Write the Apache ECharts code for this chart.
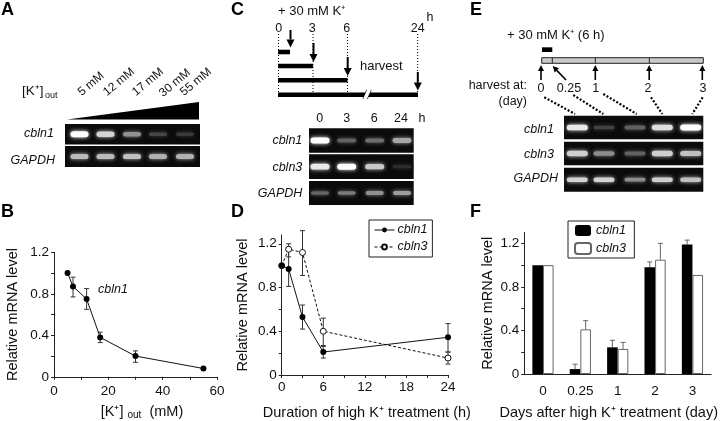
<!DOCTYPE html>
<html>
<head>
<meta charset="utf-8">
<style>html,body{margin:0;padding:0;background:#fff}#c{width:720px;height:421px}</style>
<script src="https://cdn.jsdelivr.net/npm/echarts@6/dist/echarts.min.js"></script>
</head>
<body>
<div id="c"></div>
<script>
// ---- data ----
var potassiumMM = [5, 7, 12, 17, 30, 55];
var bLevel = [1.0, 0.87, 0.75, 0.38, 0.20, 0.08];
var bLow = [null, 0.77, 0.65, 0.33, 0.14, null];
var bHigh = [null, 0.96, 0.85, 0.43, 0.25, null];

var hours = [0, 1, 3, 6, 24];
var dCbln1 = [1.0, 0.97, 0.53, 0.21, 0.345];
var dCbln1Low = [null, 0.81, 0.42, 0.155, 0.21];
var dCbln1High = [null, 1.13, 0.64, 0.26, 0.47];
var dCbln3 = [1.0, 1.15, 1.12, 0.40, 0.155];
var dCbln3Low = [null, 1.08, 0.91, 0.27, 0.10];
var dCbln3High = [null, 1.20, 1.32, 0.52, 0.21];

var days = ['0', '0.25', '1', '2', '3'];
var fCbln1 = [1.0, 0.045, 0.245, 0.98, 1.19];
var fCbln1High = [null, 0.09, 0.31, 1.03, 1.23];
var fCbln3 = [1.0, 0.41, 0.23, 1.05, 0.91];
var fCbln3High = [null, 0.49, 0.29, 1.20, null];

// gel band brightness, 0..1
var gelACbln1 = [1.0, 0.8, 0.5, 0.16, 0.1];
var gelAGapdh = [0.68, 0.68, 0.72, 0.64, 0.64];
var gelCCbln1 = [1.0, 0.28, 0.34, 0.6];
var gelCCbln3 = [0.9, 1.0, 0.75, 0.04];
var gelCGapdh = [0.3, 0.4, 0.5, 0.55];
var gelECbln1 = [0.9, 0.14, 0.28, 0.85, 1.0];
var gelECbln3 = [0.78, 0.48, 0.28, 0.78, 0.72];
var gelEGapdh = [0.8, 0.8, 0.48, 0.78, 0.72];

// ---- drawing helpers ----
var FONT = '"Liberation Sans", Arial, sans-serif';
var g = [];
function text(x, y, s, size, o) {
  o = o || {};
  g.push({ type: 'text', x: x, y: y, rotation: o.rot || 0, silent: true, z: 10,
    style: { text: s, fill: o.fill || '#111', font: (o.italic ? 'italic ' : '') + (o.bold ? 'bold ' : '') + size + 'px ' + FONT,
      textAlign: o.align || 'center', textVerticalAlign: 'middle', textBaseline: 'middle' } });
}
function line(x1, y1, x2, y2, w, dash, color) {
  g.push({ type: 'line', silent: true, z: 5, shape: { x1: x1, y1: y1, x2: x2, y2: y2 },
    style: { stroke: color || '#000', lineWidth: w || 1, lineDash: dash || null } });
}
function rect(x, y, w, h, fill, stroke, z) {
  g.push({ type: 'rect', silent: true, z: z || 4, shape: { x: x, y: y, width: w, height: h },
    style: { fill: fill, stroke: stroke || null, lineWidth: stroke ? 1 : 0 } });
}
function arrow(x1, y1, x2, y2, w, head) {
  var a = Math.atan2(y2 - y1, x2 - x1), L = head || 7, H = (head || 7) * 0.5;
  var bx = x2 - L * Math.cos(a), by = y2 - L * Math.sin(a);
  line(x1, y1, bx, by, w || 2);
  g.push({ type: 'polygon', silent: true, z: 6,
    shape: { points: [[x2, y2], [bx - H * Math.sin(a), by + H * Math.cos(a)], [bx + H * Math.sin(a), by - H * Math.cos(a)]] },
    style: { fill: '#000' } });
}
function gel(x, y, w, h, centers, values, bw, bh) {
  rect(x, y, w, h, '#0b0b0b');
  values.forEach(function (b, i) {
    var v = Math.round(35 + 220 * b);
    var c = 'rgb(' + v + ',' + v + ',' + v + ')';
    var bhh = bh * (0.55 + 0.45 * b);
    g.push({ type: 'rect', silent: true, z: 5,
      shape: { x: centers[i] - bw / 2, y: y + h / 2 - bhh / 2, width: bw, height: bhh, r: bhh / 2 },
      style: { fill: c, shadowBlur: 4, shadowColor: c } });
  });
}

// panel letters
[['A', 1, 10], ['B', 1, 212], ['C', 231, 10], ['D', 231, 212], ['E', 470, 10], ['F', 470, 212]].forEach(function (p) {
  text(p[1], p[2], p[0], 18, { bold: true, align: 'left', fill: '#000' });
});

// panel A
text(22, 91, '[K⁺]', 13.5, { align: 'left' });
text(45, 96, 'out', 9, { align: 'left' });
[['5 mM', 91, 84], ['12 mM', 119, 82], ['17 mM', 148, 82], ['30 mM', 175, 83], ['55 mM', 196, 82]].forEach(function (t) {
  text(t[1], t[2], t[0], 12, { rot: 40 * Math.PI / 180 });
});
g.push({ type: 'polygon', silent: true, z: 5, shape: { points: [[67, 119.5], [199, 119.5], [199, 102]] }, style: { fill: '#000' } });
var aX = [79.5, 105.5, 132, 158, 185];
gel(65, 124, 135, 20.5, aX, gelACbln1, 18, 6);
gel(65, 146, 135, 21, aX, gelAGapdh, 18, 6);
text(54, 134, 'cbln1', 12.5, { italic: true, align: 'right' });
text(55, 161, 'GAPDH', 12.5, { italic: true, align: 'right' });

// panel B note
text(98, 290, 'cbln1', 12.5, { italic: true, align: 'left' });

// panel C diagram
text(278, 11, '+ 30 mM K⁺', 13, { align: 'left' });
[['0', 278.7], ['3', 312.3], ['6', 346.7], ['24', 417.7]].forEach(function (t) { text(t[1], 28.5, t[0], 12.5); });
text(430, 18, 'h', 12.5);
[278.5, 313, 347.5, 417.7].forEach(function (x) { line(x, 34, x, 94, 1, [1, 2]); });
rect(278, 49.7, 12, 4.6, '#000');
rect(278, 63.7, 35, 4.6, '#000');
rect(278, 78, 69.5, 4.6, '#000');
rect(278, 92.4, 140, 4.6, '#000');
g.push({ type: 'polygon', silent: true, z: 6, shape: { points: [[363, 99], [367, 90], [371, 90], [367, 99]] }, style: { fill: '#fff' } });
line(363, 99, 367, 90, 1.2); line(367, 99, 371, 90, 1.2);
arrow(290.5, 30, 290.5, 47.5, 2, 8);
arrow(313.5, 43, 313.5, 62, 2, 8);
arrow(347.7, 57, 347.7, 76, 2, 8);
arrow(417.8, 72, 417.8, 90.5, 2, 8);
text(360, 66, 'harvest', 13, { align: 'left' });

// panel C gels
[['0', 319.7], ['3', 346.7], ['6', 374.3], ['24', 401], ['h', 422]].forEach(function (t) { text(t[1], 118.5, t[0], 12.5); });
var cX = [320, 346.7, 374.7, 402];
gel(309, 128.3, 104.7, 24.4, cX, gelCCbln1, 19, 6);
gel(309, 154.3, 104.7, 24.7, cX, gelCCbln3, 19, 6);
gel(309, 181, 104.7, 24, cX, gelCGapdh, 18, 5);
text(302.3, 140.5, 'cbln1', 12.5, { italic: true, align: 'right' });
text(302.3, 168, 'cbln3', 12.5, { italic: true, align: 'right' });
text(302.3, 193.5, 'GAPDH', 12.5, { italic: true, align: 'right' });

// panel E diagram
text(507, 35, '+ 30 mM K⁺ (6 h)', 13, { align: 'left' });
rect(542, 47.3, 10.3, 4.7, '#000');
rect(541.7, 57.7, 161.6, 5.6, '#c9c9c9', '#222');
[552.3, 595.3, 649.3].forEach(function (x) { line(x, 57.7, x, 63.3, 1, null, '#222'); });
[541, 595.3, 649.2, 702.3].forEach(function (x) { arrow(x, 80, x, 65, 1.6, 6); });
arrow(566, 80, 552.7, 66, 1.6, 6);
[['0', 541], ['0.25', 569], ['1', 595.7], ['2', 648], ['3', 703]].forEach(function (t) { text(t[1], 88.5, t[0], 12.5); });
text(527, 86, 'harvest at:', 12.5, { align: 'right' });
text(527, 102, '(day)', 12.5, { align: 'right' });
[[544.3, 97.3, 575, 114], [573.3, 95, 603.3, 114], [603.3, 94, 636.7, 114], [651, 97.3, 662.3, 114], [702.7, 97.3, 692.3, 114]].forEach(function (d) {
  line(d[0], d[1], d[2], d[3], 2.2, [2, 1.8]);
});
var eX = [577.3, 604, 635, 662.3, 690.7];
gel(564, 115.7, 139.3, 23.6, eX, gelECbln1, 21, 6);
gel(564, 141.7, 139.3, 23.6, eX, gelECbln3, 21, 6);
gel(564, 167.7, 139.3, 24, eX, gelEGapdh, 21, 5);
text(554, 130, 'cbln1', 12.5, { italic: true, align: 'right' });
text(554, 155, 'cbln3', 12.5, { italic: true, align: 'right' });
text(558, 179, 'GAPDH', 12.5, { italic: true, align: 'right' });

// ---- charts ----
function errors(grid, xs, lo, hi, color, offset) {
  var data = [];
  xs.forEach(function (x, i) { if (hi[i] != null) data.push([x, lo ? lo[i] : null, hi[i]]); });
  return {
    type: 'custom', xAxisIndex: grid, yAxisIndex: grid, silent: true, z: 1, data: data,
    encode: { x: 0, y: [1, 2] },
    renderItem: function (params, api) {
      var xv = api.value(0), top = api.coord([xv, api.value(2)]);
      var loVal = api.value(1);
      var hasLo = !isNaN(loVal);
      var x = top[0] + (offset || 0), cap = 2.5;
      var y2 = hasLo ? api.coord([xv, loVal])[1] : api.coord([xv, api.value(3)])[1];
      var st = { stroke: color, lineWidth: 1, fill: null };
      var ch = [
        { type: 'line', shape: { x1: x, y1: top[1], x2: x, y2: y2 }, style: st },
        { type: 'line', shape: { x1: x - cap, y1: top[1], x2: x + cap, y2: top[1] }, style: st }
      ];
      if (hasLo) ch.push({ type: 'line', shape: { x1: x - cap, y1: y2, x2: x + cap, y2: y2 }, style: st });
      return { type: 'group', children: ch };
    }
  };
}
function barErrors(grid, values, hi, color, offset) {
  var data = [];
  values.forEach(function (v, i) { if (hi[i] != null) data.push([i, null, hi[i], v]); });
  var s = errors(grid, [], [], [], color, offset);
  s.data = data;
  return s;
}
var AX = { lineStyle: { color: '#222', width: 1 } };
var TICK = { show: true, length: 3, lineStyle: { color: '#222', width: 1 } };
var LBL = { color: '#111', fontSize: 13.5, fontFamily: FONT };
var NAME = { color: '#111', fontSize: 14.5, fontFamily: FONT };
function yAxis(grid, max, gap, padBottom) {
  return {
    type: 'value', gridIndex: grid, min: 0, max: max, name: 'Relative mRNA level', nameLocation: 'middle', nameGap: gap, nameRotate: 90,
    nameTextStyle: Object.assign({ padding: [0, 0, padBottom, 0] }, NAME),
    splitLine: { show: false }, axisLine: Object.assign({ show: true }, AX),
    axisTick: Object.assign({ customValues: [0, 0.2, 0.4, 0.6, 0.8, 1.0, 1.2] }, TICK),
    axisLabel: Object.assign({ margin: 5, customValues: [0, 0.4, 0.8, 1.2], formatter: function (v) { return v === 0 ? '0' : v.toFixed(1); } }, LBL)
  };
}
var option = {
  animation: false,
  backgroundColor: '#fff',
  textStyle: { fontFamily: FONT },
  graphic: { elements: g },
  grid: [
    { left: 54, top: 252.3, width: 163, height: 124.5 },
    { left: 281.7, top: 235, width: 166.3, height: 141 },
    { left: 524.3, top: 232.5, width: 187.4, height: 143.2 }
  ],
  legend: [
    { data: ['cbln1', 'cbln3'], left: 369, top: 220, orient: 'vertical', padding: [3, 5, 3, 5], itemGap: 3, itemWidth: 20, itemHeight: 6,
      lineStyle: { width: 1 }, borderColor: '#222', borderWidth: 1,
      textStyle: { fontStyle: 'italic', fontSize: 12.5, lineHeight: 14, color: '#111', fontFamily: FONT, padding: [0, 0, 0, -2] } },
    { data: ['cbln1 ', 'cbln3 '], left: 568, top: 221, orient: 'vertical', padding: [3, 5, 3, 6], itemGap: 5, itemWidth: 16, itemHeight: 11,
      borderColor: '#222', borderWidth: 1, textStyle: { fontStyle: 'italic', fontSize: 12.5, color: '#111', fontFamily: FONT } }
  ],
  xAxis: [
    { type: 'value', gridIndex: 0, min: 0, max: 60, name: '[K⁺] {sub|out}  (mM)', nameLocation: 'middle', nameGap: 27,
      nameTextStyle: Object.assign({ padding: [0, 0, 0, 13], rich: { sub: { fontSize: 10, padding: [6, 0, 0, 0], fontFamily: FONT, color: '#111' } } }, NAME),
      splitLine: { show: false }, axisLine: Object.assign({ show: true, onZero: false }, AX),
      axisTick: Object.assign({ customValues: [0, 10, 20, 30, 40, 50, 60] }, TICK),
      axisLabel: Object.assign({ margin: 7, customValues: [0, 20, 40, 60] }, LBL) },
    { type: 'value', gridIndex: 1, min: 0, max: 24, name: 'Duration of high K⁺ treatment (h)', nameLocation: 'middle', nameGap: 30,
      nameTextStyle: Object.assign({ padding: [0, 0, 0, 4] }, NAME),
      splitLine: { show: false }, axisLine: Object.assign({ show: true, onZero: false }, AX),
      axisTick: Object.assign({ customValues: [0, 3, 6, 9, 12, 15, 18, 21, 24] }, TICK),
      axisLabel: Object.assign({ margin: 5, customValues: [0, 6, 12, 18, 24] }, LBL) },
    { type: 'category', gridIndex: 2, data: days, name: 'Days after high K⁺ treatment (day)', nameLocation: 'middle', nameGap: 31,
      nameTextStyle: Object.assign({ padding: [0, 18, 0, 0] }, NAME),
      axisLine: Object.assign({ show: true }, AX), axisTick: { show: false },
      axisLabel: Object.assign({ margin: 10 }, LBL) }
  ],
  yAxis: [ yAxis(0, 1.2, 26, 8), yAxis(1, 1.28, 31, 0), yAxis(2, 1.3, 29, 0) ],
  series: [
    errors(0, potassiumMM, bLow, bHigh, '#333'),
    { type: 'line', name: 'B cbln1', xAxisIndex: 0, yAxisIndex: 0, data: potassiumMM.map(function (x, i) { return [x, bLevel[i]]; }),
      symbol: 'circle', symbolSize: 6, lineStyle: { color: '#111', width: 1 }, itemStyle: { color: '#000' } },
    errors(1, hours, dCbln1Low, dCbln1High, '#333'),
    errors(1, hours, dCbln3Low, dCbln3High, '#333'),
    { type: 'line', name: 'cbln1', xAxisIndex: 1, yAxisIndex: 1, z: 3, data: hours.map(function (x, i) { return [x, dCbln1[i]]; }),
      symbol: 'circle', symbolSize: 6, lineStyle: { color: '#111', width: 1 }, itemStyle: { color: '#000' } },
    { type: 'line', name: 'cbln3', xAxisIndex: 1, yAxisIndex: 1, z: 2, data: hours.map(function (x, i) { return [x, dCbln3[i]]; }),
      symbol: 'circle', symbolSize: 6, showSymbol: true, lineStyle: { color: '#111', width: 1, type: [3, 2] },
      itemStyle: { color: '#fff', borderColor: '#111', borderWidth: 1 } },
    { type: 'bar', name: 'cbln1 ', xAxisIndex: 2, yAxisIndex: 2, data: fCbln1, barWidth: 10.6, barGap: 0,
      itemStyle: { color: '#000', borderColor: '#000', borderWidth: 0 } },
    { type: 'bar', name: 'cbln3 ', xAxisIndex: 2, yAxisIndex: 2, data: fCbln3, barWidth: 10.6, barGap: 0,
      itemStyle: { color: '#fff', borderColor: '#666', borderWidth: 1 } },
    barErrors(2, fCbln1, fCbln1High, '#666', -5.3),
    barErrors(2, fCbln3, fCbln3High, '#666', 5.3)
  ]
};
var chart = echarts.init(document.getElementById('c'), null, { renderer: 'canvas', width: 720, height: 421 });
chart.setOption(option);
</script>
</body>
</html>
